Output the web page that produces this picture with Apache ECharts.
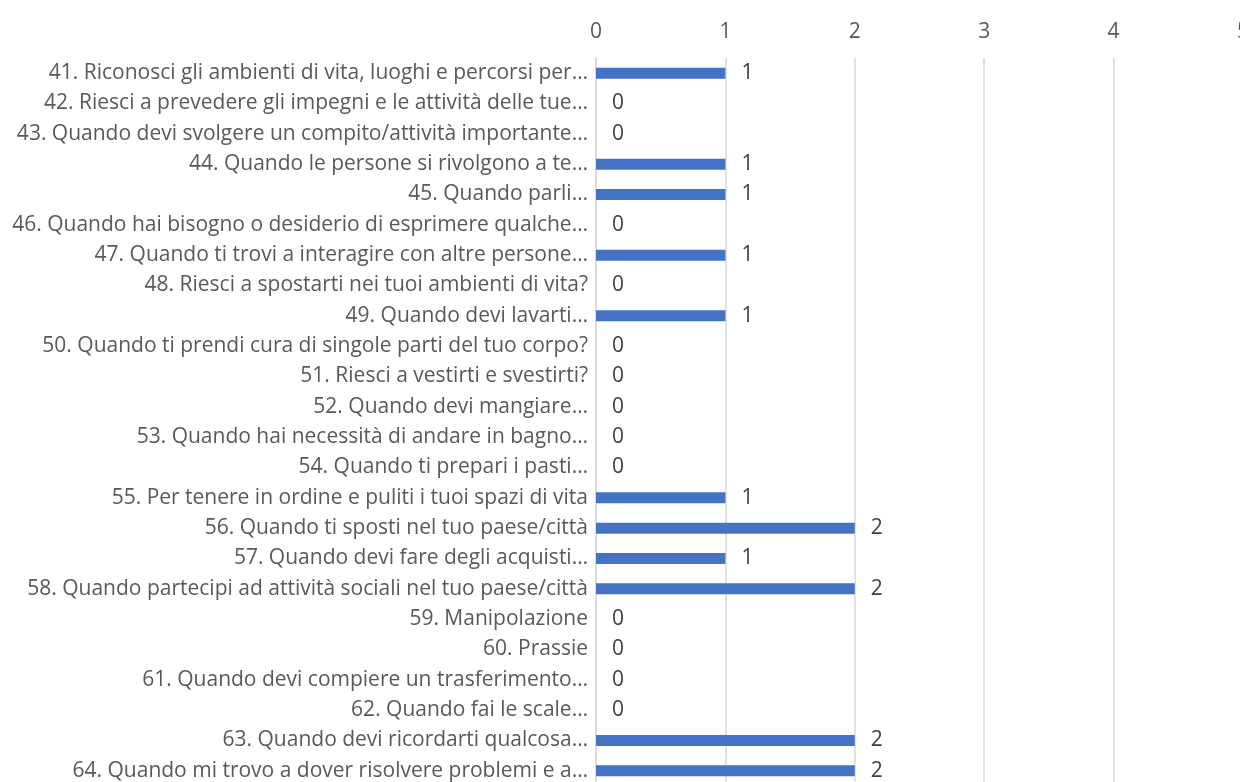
<!DOCTYPE html>
<html>
<head>
<meta charset="utf-8">
<title>Risposte</title>
<script src="https://cdn.jsdelivr.net/npm/echarts@6/dist/echarts.min.js"></script>
<style>
    html, body { margin: 0; padding: 0; background: #fff; }
    #chart { width: 1240px; height: 782px; }
</style>
</head>
<body>
<div id="chart"></div>
<script>
'use strict';

const categories = [
    '41. Riconosci gli ambienti di vita, luoghi e percorsi per…',
    '42. Riesci a prevedere gli impegni e le attività delle tue…',
    '43. Quando devi svolgere un compito/attività importante…',
    '44. Quando le persone si rivolgono a te…',
    '45. Quando parli…',
    '46. Quando hai bisogno o desiderio di esprimere qualche…',
    '47. Quando ti trovi a interagire con altre persone…',
    '48. Riesci a spostarti nei tuoi ambienti di vita?',
    '49. Quando devi lavarti…',
    '50. Quando ti prendi cura di singole parti del tuo corpo?',
    '51. Riesci a vestirti e svestirti?',
    '52. Quando devi mangiare…',
    '53. Quando hai necessità di andare in bagno…',
    '54. Quando ti prepari i pasti…',
    '55. Per tenere in ordine e puliti i tuoi spazi di vita',
    '56. Quando ti sposti nel tuo paese/città',
    '57. Quando devi fare degli acquisti…',
    '58. Quando partecipi ad attività sociali nel tuo paese/città',
    '59. Manipolazione',
    '60. Prassie',
    '61. Quando devi compiere un trasferimento…',
    '62. Quando fai le scale…',
    '63. Quando devi ricordarti qualcosa…',
    '64. Quando mi trovo a dover risolvere problemi e a…'
];

const values = [1, 0, 0, 1, 1, 0, 1, 0, 1, 0, 0, 0, 0, 0, 1, 2, 1, 2, 0, 0, 0, 0, 2, 2];

const xTicks = [0, 1, 2, 3, 4, 5];

const chart = echarts.init(document.getElementById('chart'));

const font = '"Open Sans", "Noto Sans", sans-serif';

chart.setOption({
    animation: false,
    textStyle: { fontFamily: font },
    grid: {
        left: 596,
        right: -3,
        top: 58,
        bottom: -4,
        containLabel: false,
        outerBoundsMode: 'none'
    },
    xAxis: {
        type: 'value',
        position: 'top',
        min: xTicks[0],
        max: xTicks[xTicks.length - 1],
        interval: 1,
        axisLine: { show: false },
        axisTick: { show: false },
        axisLabel: {
            color: '#595959',
            fontSize: 21,
            margin: 15,
            fontFamily: font,
            showMaxLabel: true
        },
        splitLine: { lineStyle: { color: '#d9d9d9', width: 1.5 } }
    },
    yAxis: {
        type: 'category',
        inverse: true,
        data: categories,
        axisLine: { show: true, lineStyle: { color: '#d9d9d9', width: 1.5 } },
        axisTick: { show: false },
        axisLabel: {
            color: '#595959',
            fontSize: 21,
            margin: 8,
            fontFamily: font,
            width: 600,
            overflow: 'none'
        }
    },
    series: [{
        type: 'bar',
        data: values,
        barWidth: 11,
        itemStyle: { color: '#4472C4' },
        label: {
            show: true,
            position: 'right',
            distance: 16,
            color: '#404040',
            fontSize: 21,
            fontFamily: font
        }
    }]
});
</script>
</body>
</html>
